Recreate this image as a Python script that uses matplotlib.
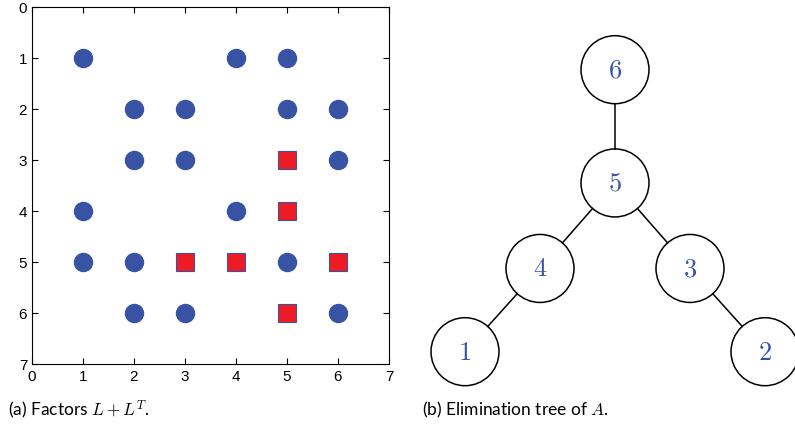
import matplotlib.pyplot as plt
from matplotlib.patches import Circle

plt.rcParams['mathtext.fontset'] = 'cm'
plt.rcParams['font.family'] = 'Liberation Sans'

# nonzeros of L + L^T (column, row)
orig_x = [1, 4, 5, 2, 3, 5, 6, 2, 3, 6, 1, 4, 1, 2, 5, 2, 3, 6]
orig_y = [1, 1, 1, 2, 2, 2, 2, 3, 3, 3, 4, 4, 5, 5, 5, 6, 6, 6]
# fill-in entries
fill_x = [5, 5, 3, 4, 6, 5]
fill_y = [3, 4, 5, 5, 5, 6]

# elimination tree: node -> parent, and layout (horizontal slot, level)
nodes = [6, 5, 4, 3, 1, 2]
node_x = [0, 0, -1, 1, -2, 2]
node_y = [0, 1.51, 2.65, 2.65, 3.76, 3.76]
parent = {5: 6, 4: 5, 3: 5, 1: 4, 2: 3}

blue = '#3953a4'
red = '#ed1c24'

fig = plt.figure(figsize=(7.95, 4.27), dpi=100)

# (a) spy plot
ax1 = fig.add_axes([32/795, 1 - 365/427, 357/795, 357/427])
ax1.plot(orig_x, orig_y, 'o', color=blue, markersize=13, linestyle='none')
ax1.plot(fill_x, fill_y, 's', color=red, markeredgecolor=blue, markeredgewidth=0.8,
         markersize=13, linestyle='none')
ax1.set_xlim(0, 7)
ax1.set_ylim(7, 0)
ax1.set_xticks(range(8))
ax1.set_yticks(range(8))
ax1.tick_params(direction='in', top=True, right=True, labelsize=11, length=4)
for s in ax1.spines.values():
    s.set_linewidth(0.8)
fig.text(8/795, 1 - 410/427, r'(a) Factors $L + L^T$.', fontsize=12.5,
         family='Lato', va='center', ha='left')

# (b) elimination tree, 1 unit = 75 px
ax2 = fig.add_axes([415/795, 0, 380/795, 1])
ax2.set_xlim((415 - 615) / 75, (795 - 615) / 75)
ax2.set_ylim((427 - 70.7) / 75, -70.7 / 75)
ax2.set_aspect('equal')
ax2.axis('off')
pos = {n: (x, y) for n, x, y in zip(nodes, node_x, node_y)}
r = 34 / 75
for child, par in parent.items():
    x0, y0 = pos[child]
    x1, y1 = pos[par]
    dx, dy = x1 - x0, y1 - y0
    d = (dx ** 2 + dy ** 2) ** 0.5
    ax2.plot([x0 + dx / d * r, x1 - dx / d * r], [y0 + dy / d * r, y1 - dy / d * r],
             color='black', lw=1.1)
for n in nodes:
    x, y = pos[n]
    ax2.add_patch(Circle((x, y), r, facecolor='white', edgecolor='black', lw=1.1,
                         clip_on=False))
    ax2.text(x, y, '$%d$' % n, color=blue, fontsize=19, ha='center', va='center')
fig.text(422/795, 1 - 410/427, r'(b) Elimination tree of $\mathit{A}$.', fontsize=12.5,
         family='Lato', va='center', ha='left')

fig.savefig('out.png', dpi=100)
